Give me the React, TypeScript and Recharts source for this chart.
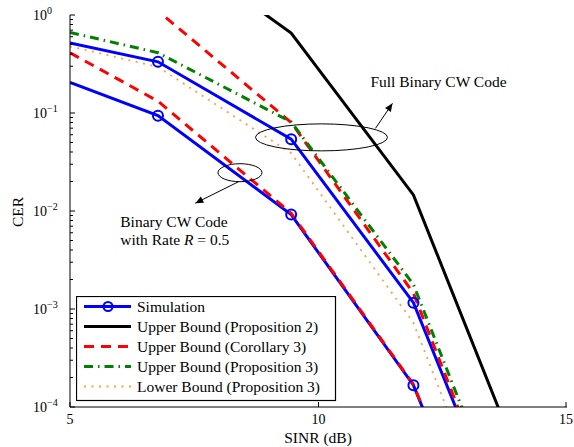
import { Legend, Line, LineChart, ReferenceDot, XAxis, YAxis } from "recharts";

const SERIF = "'Liberation Serif', 'Times New Roman', serif";
const BLUE = "#0000ff";
const RED = "#ff0000";
const GREEN = "#008000";
const ORANGE = "#ffa040";
const LABEL_SIZE = 15.5;

// SINR grid (dB) shared by every curve; last point lies past the plotted range
const SINR = [5, 6.77, 9.45, 11.91, 14.4];

// CER
const SIM_FULL = [0.517, 0.333, 0.054, 1.16e-3, 8.7e-7];
const SIM_HALF = [0.205, 0.094, 9.2e-3, 1.67e-4, 1.3e-7];
const UB_PROP2 = [16, 6.2, 0.655, 0.0146, 1.0e-5];
const UB_COR3_FULL = [2.0, 1.1, 0.08, 1.45e-3, 8.3e-7];
const UB_COR3_HALF = [0.412, 0.132, 9.5e-3, 1.7e-4, 1.3e-7];
const UB_PROP3 = [0.664, 0.412, 0.081, 1.78e-3, 1.1e-6];
const LB_PROP3 = [0.479, 0.295, 0.0389, 7.24e-4, 4.2e-7];

const X_TICKS = [5, 10, 15];
const Y_MAJOR = [1e-4, 1e-3, 1e-2, 1e-1, 1];
const Y_EXP = ["−4", "−3", "−2", "−1", "0"];
const MINOR_STEPS = [2, 3, 4, 5, 6, 7, 8, 9];
const Y_TICKS = [
  ...Y_MAJOR,
  ...Y_MAJOR.slice(0, -1).flatMap((m) => MINOR_STEPS.map((s) => m * s)),
];

const LEGEND_LABELS = [
  "Simulation",
  "Upper Bound (Proposition 2)",
  "Upper Bound (Corollary 3)",
  "Upper Bound (Proposition 3)",
  "Lower Bound (Proposition 3)",
];

const rows = (vals: number[]) => SINR.map((sinr, i) => ({ sinr, cer: vals[i] }));

const majorIndex = (v: number) => Y_MAJOR.findIndex((m) => Math.abs(v / m - 1) < 1e-6);

function LeftTick({ x, y, payload }: any) {
  const idx = majorIndex(payload.value);
  const major = idx >= 0;
  return (
    <g>
      <line x1={x} x2={x + (major ? 5 : 3)} y1={y} y2={y} stroke="#000" />
      {major && (
        <text x={x - 37} y={y + 5} fontFamily={SERIF} fontSize={14} fill="#000">
          10
          <tspan dy={-6} fontSize={10}>
            {Y_EXP[idx]}
          </tspan>
        </text>
      )}
    </g>
  );
}

function RightTick({ x, y, payload }: any) {
  const major = majorIndex(payload.value) >= 0;
  return <line x1={x} x2={x - (major ? 5 : 3)} y1={y} y2={y} stroke="#000" />;
}

function BottomTick({ x, y, payload }: any) {
  return (
    <g>
      <line x1={x} x2={x} y1={y} y2={y - 5} stroke="#000" />
      <text x={x} y={y + 17} textAnchor="middle" fontFamily={SERIF} fontSize={14} fill="#000">
        {payload.value}
      </text>
    </g>
  );
}

function TopTick({ x, y }: any) {
  return <line x1={x} x2={x} y1={y} y2={y + 5} stroke="#000" />;
}

function arrowHead(x1: number, y1: number, x2: number, y2: number) {
  const a = Math.atan2(y2 - y1, x2 - x1);
  const L = 8;
  const W = 3.5;
  const bx = x2 - L * Math.cos(a);
  const by = y2 - L * Math.sin(a);
  const px = -Math.sin(a) * W;
  const py = Math.cos(a) * W;
  return `${x2},${y2} ${bx + px},${by + py} ${bx - px},${by - py}`;
}

function FullAnnot({ cx, cy }: any) {
  const ax1 = cx + 54, ay1 = cy - 9, ax2 = cx + 71, ay2 = cy - 34;
  return (
    <g>
      <ellipse cx={cx} cy={cy} rx={66} ry={13.5} fill="none" stroke="#000" strokeWidth={1} />
      <line x1={ax1} y1={ay1} x2={ax2} y2={ay2} stroke="#000" strokeWidth={1} />
      <polygon points={arrowHead(ax1, ay1, ax2, ay2)} fill="#000" />
      <text x={cx + 117} y={cy - 50} textAnchor="middle" fontFamily={SERIF} fontSize={LABEL_SIZE} fill="#000">
        Full Binary CW Code
      </text>
    </g>
  );
}

function HalfAnnot({ cx, cy }: any) {
  const ax1 = cx - 1.4, ay1 = cy + 9, ax2 = cx - 44.7, ay2 = cy + 30.5;
  const tx = cx - 119.7;
  return (
    <g>
      <ellipse cx={cx} cy={cy} rx={22} ry={9} fill="none" stroke="#000" strokeWidth={1} />
      <line x1={ax1} y1={ay1} x2={ax2} y2={ay2} stroke="#000" strokeWidth={1} />
      <polygon points={arrowHead(ax1, ay1, ax2, ay2)} fill="#000" />
      <text x={tx} y={cy + 54.5} fontFamily={SERIF} fontSize={LABEL_SIZE} fill="#000">
        Binary CW Code
      </text>
      <text x={tx} y={cy + 72} fontFamily={SERIF} fontSize={LABEL_SIZE} fill="#000">
        with Rate <tspan fontStyle="italic">R</tspan> = 0.5
      </text>
    </g>
  );
}

// skip the marker at the left border (the plotted simulation has none there)
function SimDot({ cx, cy, index }: any) {
  if (index === 0 || cx == null) return <g key={index} />;
  return <circle key={index} cx={cx} cy={cy} r={5} fill="none" stroke={BLUE} strokeWidth={2} />;
}

function LegendBox() {
  const styles = [
    { stroke: BLUE, dash: undefined, w: 3 },
    { stroke: "#000", dash: undefined, w: 3 },
    { stroke: RED, dash: "10 7", w: 3 },
    { stroke: GREEN, dash: "9 5 1.5 5", w: 3 },
    { stroke: ORANGE, dash: "2 5.5", w: 1.8 },
  ];
  return (
    <svg width={261} height={106} style={{ display: "block" }}>
      <rect x={0.5} y={0.5} width={259} height={104} fill="#fff" stroke="#000" strokeWidth={1.2} />
      {LEGEND_LABELS.map((label, i) => {
        const cy = 10.5 + i * 20;
        const s = styles[i];
        return (
          <g key={label}>
            <line x1={8} x2={55} y1={cy} y2={cy} stroke={s.stroke} strokeWidth={s.w} strokeDasharray={s.dash} />
            {i === 0 && <circle cx={32} cy={cy} r={4.5} fill="none" stroke={BLUE} strokeWidth={2} />}
            <text x={61} y={cy + 5} fontFamily={SERIF} fontSize={LABEL_SIZE} fill="#000">
              {label}
            </text>
          </g>
        );
      })}
    </svg>
  );
}

export default function App() {
  return (
    <div style={{ position: "absolute", left: 0, top: 0, width: 574, height: 447, background: "#fff" }}>
      <LineChart width={574} height={447} margin={{ top: 15, right: 7, bottom: 10, left: 10 }}>
        <XAxis
          type="number"
          dataKey="sinr"
          domain={[5, 15]}
          ticks={X_TICKS}
          allowDataOverflow
          height={30}
          stroke="#000"
          tickSize={0}
          tickMargin={0}
          tick={<BottomTick />}
        />
        <XAxis
          xAxisId="top"
          orientation="top"
          type="number"
          dataKey="sinr"
          domain={[5, 15]}
          ticks={X_TICKS}
          allowDataOverflow
          height={0}
          stroke="#000"
          tickSize={0}
          tickMargin={0}
          tick={<TopTick />}
        />
        <YAxis
          type="number"
          scale="log"
          domain={[1e-4, 1]}
          ticks={Y_TICKS}
          allowDataOverflow
          width={60}
          stroke="#000"
          tickSize={0}
          tickMargin={0}
          tick={<LeftTick />}
          interval={0}
        />
        <YAxis
          yAxisId="right"
          orientation="right"
          type="number"
          scale="log"
          domain={[1e-4, 1]}
          ticks={Y_TICKS}
          allowDataOverflow
          width={0}
          stroke="#000"
          tickSize={0}
          tickMargin={0}
          tick={<RightTick />}
          interval={0}
        />
        <Line data={rows(SIM_FULL)} dataKey="cer" stroke={BLUE} strokeWidth={3} dot={<SimDot />} isAnimationActive={false} />
        <Line data={rows(SIM_HALF)} dataKey="cer" stroke={BLUE} strokeWidth={3} dot={<SimDot />} isAnimationActive={false} />
        <Line data={rows(UB_PROP2)} dataKey="cer" stroke="#000" strokeWidth={3} dot={false} isAnimationActive={false} />
        <Line data={rows(UB_COR3_FULL)} dataKey="cer" stroke={RED} strokeWidth={3} strokeDasharray="10 7" dot={false} isAnimationActive={false} />
        <Line data={rows(UB_COR3_HALF)} dataKey="cer" stroke={RED} strokeWidth={3} strokeDasharray="10 7" dot={false} isAnimationActive={false} />
        <Line data={rows(UB_PROP3)} dataKey="cer" stroke={GREEN} strokeWidth={3} strokeDasharray="9 5 1.5 5" dot={false} isAnimationActive={false} />
        <Line data={rows(LB_PROP3)} dataKey="cer" stroke={ORANGE} strokeWidth={1.8} strokeDasharray="2 5.5" dot={false} isAnimationActive={false} />
        <ReferenceDot x={10.06} y={0.0564} r={0} shape={<FullAnnot />} />
        <ReferenceDot x={8.42} y={0.0246} r={0} shape={<HalfAnnot />} />
        <Legend
          layout="vertical"
          align="center"
          verticalAlign="middle"
          content={<LegendBox />}
          wrapperStyle={{ left: 76, top: 296, width: 261, height: 106 }}
        />
        <text x={318} y={443} textAnchor="middle" fontFamily={SERIF} fontSize={LABEL_SIZE} fill="#000">
          SINR (dB)
        </text>
        <text
          x={23}
          y={212}
          textAnchor="middle"
          transform="rotate(-90 23 212)"
          fontFamily={SERIF}
          fontSize={LABEL_SIZE}
          fill="#000"
        >
          CER
        </text>
      </LineChart>
    </div>
  );
}
